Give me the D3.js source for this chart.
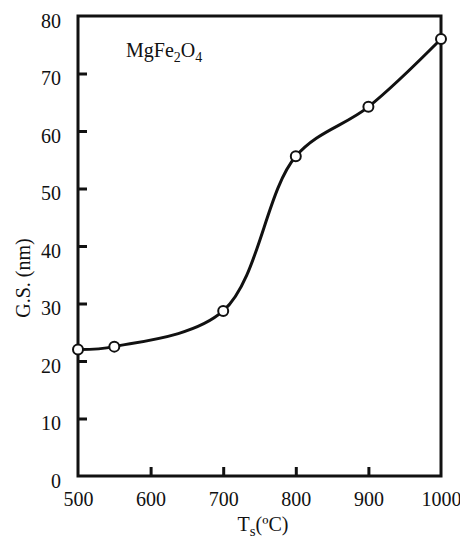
<!DOCTYPE html>
<html>
<head>
<meta charset="utf-8">
<script src="https://cdn.jsdelivr.net/npm/d3@7"></script>
<style>
  body { margin: 0; background: #fff; }
  text { font-family: "Liberation Serif", "DejaVu Serif", serif; fill: #111; }
</style>
</head>
<body>
<svg id="chart" width="460" height="538"></svg>
<script>
// sintering temperature (C) vs grain size (nm)
const temps = [500, 550, 700, 800, 900, 1000];
const sizes = [22, 22.5, 28.7, 55.6, 64.2, 76];
const xTicks = [500, 600, 700, 800, 900, 1000];
const yTicks = [0, 10, 20, 30, 40, 50, 60, 70, 80];

const svg = d3.select("#chart");
const plotLeft = 78, plotRight = 441, plotTop = 16, plotBottom = 476;

const x = d3.scaleLinear().domain([500, 1000]).range([plotLeft, plotRight]);
const y = d3.scaleLinear().domain([0, 80]).range([plotBottom, plotTop]);

// frame
svg.append("rect").attr("x", plotLeft).attr("y", plotTop)
  .attr("width", plotRight - plotLeft).attr("height", plotBottom - plotTop)
  .attr("fill", "none").attr("stroke", "#111").attr("stroke-width", 3);

const fontSize = 20;

const xAxis = svg.append("g").attr("transform", `translate(0,${plotBottom})`)
  .call(d3.axisBottom(x).tickValues(xTicks).tickFormat(d3.format("d"))
    .tickSizeInner(-9).tickSizeOuter(0).tickPadding(16));
const yAxis = svg.append("g").attr("transform", `translate(${plotLeft},0)`)
  .call(d3.axisLeft(y).tickValues(yTicks).tickSizeInner(-9).tickSizeOuter(0).tickPadding(17));

[xAxis, yAxis].forEach(function(g) {
  g.select(".domain").remove();
  g.selectAll(".tick line").attr("stroke", "#111").attr("stroke-width", 3);
  g.selectAll("text").attr("font-size", fontSize).attr("font-family", null).attr("fill", "#111");
});
yAxis.selectAll("text").attr("dy", "0.55em");
// hide end ticks which sit on the frame
xAxis.selectAll(".tick line").filter(function(d) { return d === 500 || d === 1000; }).remove();
yAxis.selectAll(".tick line").filter(function(d) { return d === 0 || d === 80; }).remove();

// curve
const line = d3.line()
  .x(function(d, i) { return x(temps[i]); })
  .y(function(d) { return y(d); })
  .curve(d3.curveCatmullRom.alpha(0.5));

svg.append("path").attr("d", line(sizes))
  .attr("fill", "none").attr("stroke", "#111").attr("stroke-width", 3);

svg.append("g").selectAll("circle").data(sizes).enter().append("circle")
  .attr("cx", function(d, i) { return x(temps[i]); })
  .attr("cy", function(d) { return y(d); })
  .attr("r", 5).attr("fill", "#fff").attr("stroke", "#111").attr("stroke-width", 2);

// compound label
const lab = svg.append("text").attr("x", 126).attr("y", 57).attr("font-size", fontSize);
lab.append("tspan").text("MgFe");
lab.append("tspan").attr("font-size", 14).attr("dy", 5).text("2");
lab.append("tspan").attr("dy", -5).text("O");
lab.append("tspan").attr("font-size", 14).attr("dy", 5).text("4");

// axis titles
const xt = svg.append("text").attr("x", 263).attr("y", 531)
  .attr("text-anchor", "middle").attr("font-size", fontSize);
xt.append("tspan").text("T");
xt.append("tspan").attr("font-size", 15).attr("dy", 5).text("s");
xt.append("tspan").attr("dy", -5).text("(ºC)");

svg.append("text").attr("transform", "translate(30,278) rotate(-90)")
  .attr("text-anchor", "middle").attr("font-size", fontSize).text("G.S. (nm)");
</script>
</body>
</html>
